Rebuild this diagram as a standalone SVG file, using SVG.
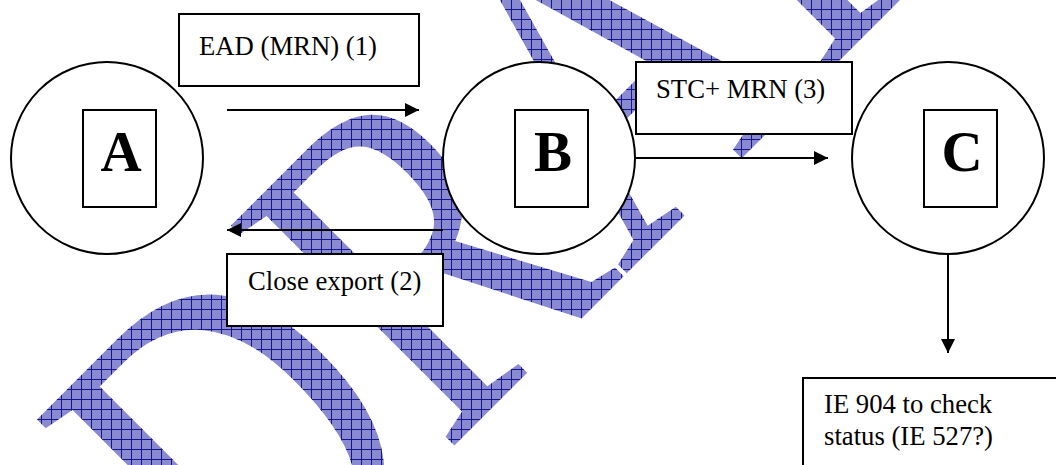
<svg xmlns="http://www.w3.org/2000/svg" width="1056" height="465" viewBox="0 0 1056 465">
  <defs>
    <style>
      .node { fill: #ffffff; stroke: #000000; stroke-width: 2; }
      .inner { fill: #ffffff; stroke: #000000; stroke-width: 2; }
      .label { font-family: "Liberation Serif", "Times New Roman", serif; font-size: 26.7px; fill: #000000; }
      .big { font-family: "Liberation Serif", "Times New Roman", serif; font-size: 57px; font-weight: bold; fill: #000000; text-anchor: middle; }
      .wire { stroke: #000000; stroke-width: 2; fill: none; marker-end: url(#head); }
      .stamp { font-family: "Liberation Serif", "Times New Roman", serif; font-size: 479px; fill: url(#hatch); }
    </style>
    <marker id="head" viewBox="0 0 10 10" refX="10" refY="5" markerUnits="userSpaceOnUse" markerWidth="16" markerHeight="14" orient="auto">
      <path d="M0,0 L10,5 L0,10 Z" fill="#000000"/>
    </marker>
    <!-- screen-aligned grid: undoes the stamp's rotate/scale -->
    <pattern id="hatch" patternUnits="userSpaceOnUse" width="10" height="10" patternTransform="scale(1.261,1) rotate(45)">
      <rect width="10" height="10" fill="#8a8ad0"/>
      <path d="M0,0.5 H10 M0.5,0 V10" stroke="#14148c" stroke-width="1"/>
    </pattern>
  </defs>

  <!-- watermark -->
  <g id="watermark">
    <text class="stamp" transform="translate(251,649) rotate(-45) scale(0.793,1)" x="0" y="0">DRAFT</text>
  </g>

  <!-- node A -->
  <g id="node-a">
    <circle class="node" cx="107" cy="158" r="96"/>
    <rect class="inner" x="83" y="110" width="73" height="97"/>
    <text class="big" x="121" y="171">A</text>
  </g>

  <!-- node B -->
  <g id="node-b">
    <circle class="node" cx="539" cy="158" r="96"/>
    <rect class="inner" x="515" y="110" width="73" height="97"/>
    <text class="big" x="553" y="171">B</text>
  </g>

  <!-- node C -->
  <g id="node-c">
    <circle class="node" cx="948" cy="158" r="96"/>
    <rect class="inner" x="924" y="110" width="73" height="97"/>
    <text class="big" x="962" y="171">C</text>
  </g>

  <!-- message labels -->
  <g id="label-ead">
    <rect class="node" x="179" y="14" width="240" height="72"/>
    <text class="label" x="199" y="55">EAD (MRN) (1)</text>
  </g>
  <g id="label-close">
    <rect class="node" x="227" y="254" width="216" height="72"/>
    <text class="label" x="248" y="290">Close export (2)</text>
  </g>
  <g id="label-stc">
    <rect class="node" x="636" y="62" width="216" height="72"/>
    <text class="label" x="656" y="98">STC+ MRN (3)</text>
  </g>
  <g id="label-ie904">
    <rect class="node" x="803" y="378" width="300" height="120"/>
    <text class="label" x="824" y="413">IE 904 to check</text>
    <text class="label" x="824" y="445">status (IE 527?)</text>
  </g>

  <!-- connectors -->
  <g id="connectors">
    <line class="wire" x1="227" y1="110" x2="419" y2="110"/>
    <line class="wire" x1="443" y1="230" x2="227" y2="230"/>
    <line class="wire" x1="636" y1="158" x2="828" y2="158"/>
    <line class="wire" x1="948" y1="254" x2="948" y2="353"/>
  </g>
</svg>
